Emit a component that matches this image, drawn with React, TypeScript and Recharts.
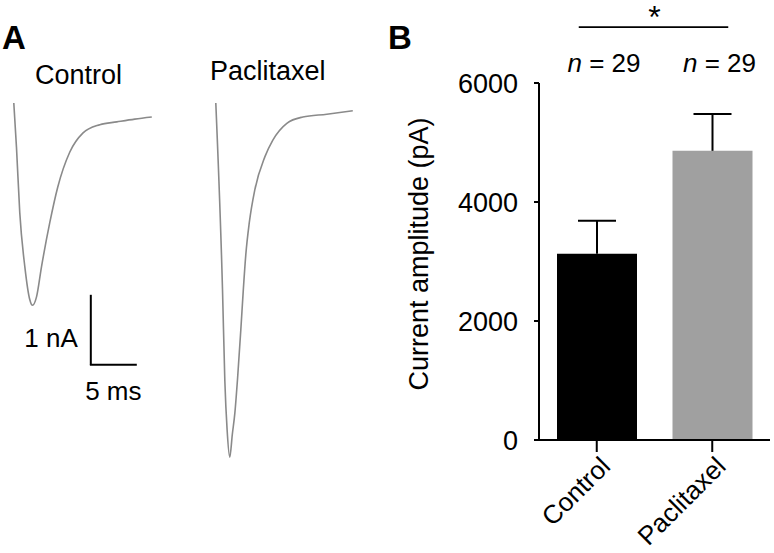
import React from 'react'
import { LineChart, Line, BarChart, Bar, Cell, XAxis, YAxis, ReferenceLine, LabelList } from 'recharts'

const FONT = '"Liberation Sans", Arial, Helvetica, sans-serif'

// Panel A: example traces, time in ms and current in nA
const controlTime = [0, 0.29, 0.65, 1.2, 1.74, 2.03, 2.47, 3.01, 3.91, 4.78, 6.09, 7.5, 9.35, 11.2, 13.15, 15.0]
const controlCurrent = [0, -0.63, -1.57, -2.34, -2.81, -2.89, -2.77, -2.34, -1.71, -1.2, -0.7, -0.43, -0.31, -0.27, -0.23, -0.2]
const paclitaxelTime = [0, 0.73, 0.98, 1.23, 1.52, 1.79, 2.07, 2.39, 2.72, 2.99, 3.26, 3.64, 4.24, 5.33, 6.2, 7.72, 9.46, 12.07, 14.89]
const paclitaxelCurrent = [0, -2.67, -3.96, -4.67, -5.06, -4.74, -4.43, -3.89, -3.24, -2.67, -2.17, -1.71, -1.24, -0.77, -0.53, -0.29, -0.2, -0.16, -0.11]

// scale bar: 1 nA by 5 ms, anchored at its corner
const scaleBarT = 8.37
const scaleBarV = -3.74
const scaleBarMs = 5
const scaleBarNa = 1

// Panel B: mean current amplitude (pA) with SEM
const groups = ['Control', 'Paclitaxel']
const means = [3130, 4860]
const sems = [555, 620]
const counts = [29, 29]
const barColors = ['#000000', '#a0a0a0']
const yTicks = [0, 2000, 4000, 6000]
const bracketLevel = 6940

const controlData = controlTime.map((t, i) => ({ t, v: controlCurrent[i] }))
const paclitaxelData = paclitaxelTime.map((t, i) => ({ t, v: paclitaxelCurrent[i] }))
const barData = groups.map((group, i) => ({ group, mean: means[i], sem: sems[i], n: counts[i] }))

function TraceChart({ data, left, children }: any) {
  return (
    <div style={{ position: 'absolute', left, top: 89 }}>
      <LineChart width={184} height={420} data={data} margin={{ top: 0, right: 0, bottom: 0, left: 0 }}>
        <XAxis type="number" dataKey="t" domain={[-1.5, 18.5]} allowDataOverflow hide />
        <YAxis type="number" domain={[-5.8, 0.2]} allowDataOverflow hide />
        <Line
          dataKey="v"
          type="monotone"
          stroke="#8a8a8a"
          strokeWidth={1.6}
          dot={false}
          isAnimationActive={false}
        />
        {children}
      </LineChart>
    </div>
  )
}

function ErrorCap(props: any) {
  const { x, y, width, height } = props
  const cx = x + width / 2
  return (
    <g>
      <line x1={cx} x2={cx} y1={y + height} y2={y} stroke="#000" strokeWidth={2} />
      <line x1={cx - 19} x2={cx + 19} y1={y} y2={y} stroke="#000" strokeWidth={2} />
    </g>
  )
}

function GroupTick({ x, y, payload }: any) {
  const ax = x + 15
  const ay = y + 16
  return (
    <text
      x={ax}
      y={ay}
      transform={`rotate(-45 ${ax} ${ay})`}
      textAnchor="end"
      fontSize={26}
      fontFamily={FONT}
      fill="#000"
    >
      {payload.value}
    </text>
  )
}

function CountLabel({ x, width, value }: any) {
  return (
    <text x={x + width / 2 + 7} y={72} textAnchor="middle" fontSize={26} fontFamily={FONT} fill="#000">
      <tspan fontStyle="italic">n</tspan>
      <tspan> = {value}</tspan>
    </text>
  )
}

export default function App() {
  return (
    <div style={{ position: 'relative', width: 774, height: 553, background: '#fff', fontFamily: FONT }}>
      <style>{'body{margin:0}'}</style>

      <TraceChart data={controlData} left={0}>
        <ReferenceLine
          segment={[{ x: scaleBarT, y: scaleBarV }, { x: scaleBarT, y: scaleBarV + scaleBarNa }]}
          stroke="#000"
          strokeWidth={2}
          label={({ viewBox }: any) => (
            <text x={viewBox.x - 13} y={viewBox.y + viewBox.height / 2 + 17} textAnchor="end" fontSize={26} fontFamily={FONT} fill="#000">
              1 nA
            </text>
          )}
        />
        <ReferenceLine
          segment={[{ x: scaleBarT - 0.1, y: scaleBarV }, { x: scaleBarT + scaleBarMs, y: scaleBarV }]}
          stroke="#000"
          strokeWidth={2}
          label={({ viewBox }: any) => (
            <text x={viewBox.x + viewBox.width / 2} y={viewBox.y + 35} textAnchor="middle" fontSize={26} fontFamily={FONT} fill="#000">
              5 ms
            </text>
          )}
        />
      </TraceChart>
      <TraceChart data={paclitaxelData} left={202} />

      <div style={{ position: 'absolute', left: 380, top: 0 }}>
        <BarChart
          width={394}
          height={553}
          data={barData}
          margin={{ top: 83, right: 4, bottom: 0, left: 0 }}
          barCategoryGap={18}
        >
          <XAxis
            dataKey="group"
            height={113}
            interval={0}
            tickSize={12}
            tickMargin={0}
            axisLine={{ stroke: '#000', strokeWidth: 2 }}
            tickLine={{ stroke: '#000', strokeWidth: 2 }}
            tick={<GroupTick />}
          />
          <YAxis
            width={159}
            domain={[0, 6000]}
            ticks={yTicks}
            tickSize={5}
            tickMargin={16}
            axisLine={{ stroke: '#000', strokeWidth: 2 }}
            tickLine={{ stroke: '#000', strokeWidth: 2 }}
            tick={{ fill: '#000', fontSize: 27, fontFamily: FONT }}
            label={({ viewBox }: any) => {
              const cx = viewBox.x + 48
              const cy = 254
              return (
                <text x={cx} y={cy} transform={`rotate(-90 ${cx} ${cy})`} textAnchor="middle" fontSize={27} fontFamily={FONT} fill="#000">
                  Current amplitude (pA)
                </text>
              )
            }}
          />
          <Bar dataKey="mean" stackId="s" isAnimationActive={false}>
            {barData.map((d, i) => (
              <Cell key={d.group} fill={barColors[i]} />
            ))}
            <LabelList dataKey="n" content={<CountLabel />} />
          </Bar>
          <Bar dataKey="sem" stackId="s" fill="none" shape={<ErrorCap />} isAnimationActive={false} />
          <ReferenceLine
            segment={[{ x: 'Control', y: bracketLevel }, { x: 'Paclitaxel', y: bracketLevel }]}
            ifOverflow="visible"
            stroke="#000"
            strokeWidth={1.8}
            shape={(p: any) => (
              <line x1={p.x1 - 18} x2={p.x2 + 16} y1={p.y1} y2={p.y2} stroke="#000" strokeWidth={1.8} />
            )}
            label={({ viewBox }: any) => (
              <text x={viewBox.x + viewBox.width / 2} y={viewBox.y + 1} textAnchor="middle" fontSize={32} fontFamily={FONT} fill="#000">
                *
              </text>
            )}
          />
        </BarChart>
      </div>

      <svg width={774} height={553} style={{ position: 'absolute', left: 0, top: 0, pointerEvents: 'none' }}>
        <text x={2} y={49} fontSize={33} fontWeight="bold" fontFamily={FONT} fill="#000">A</text>
        <text x={388} y={49} fontSize={33} fontWeight="bold" fontFamily={FONT} fill="#000">B</text>
        <text x={35} y={84} fontSize={27} fontFamily={FONT} fill="#000">Control</text>
        <text x={210} y={80} fontSize={27} fontFamily={FONT} fill="#000">Paclitaxel</text>
      </svg>
    </div>
  )
}
